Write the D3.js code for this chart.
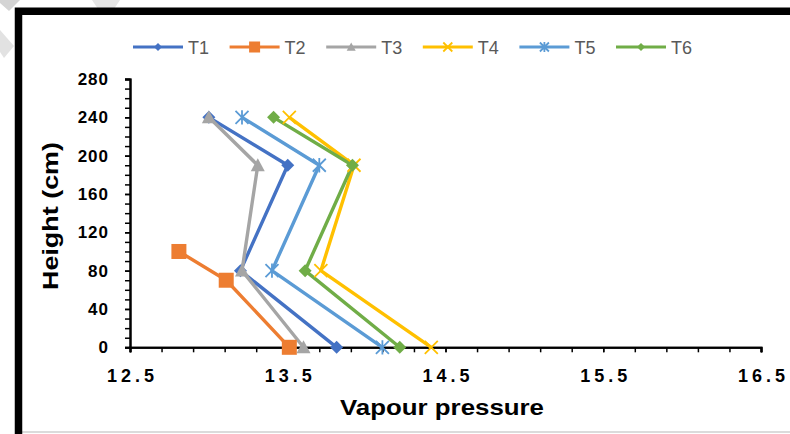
<!DOCTYPE html>
<html>
<head>
<meta charset="utf-8">
<script src="https://cdn.jsdelivr.net/npm/d3@7"></script>
<style>
  html, body { margin: 0; padding: 0; background: #fff; }
  svg { display: block; }
</style>
</head>
<body>
<svg id="chart" width="790" height="434"></svg>
<script>
// ---- data ----
const heights = [0, 80, 190, 240];
const seriesNames = ["T1", "T2", "T3", "T4", "T5", "T6"];
const T1 = [13.81, 13.20, 13.50, 13.00];
const T2x = [13.51, 13.11, 12.81];
const T2h = [0, 70, 100];
const T3 = [13.60, 13.21, 13.31, 13.00];
const T4 = [14.41, 13.71, 13.92, 13.51];
const T5 = [14.10, 13.40, 13.70, 13.21];
const T6 = [14.21, 13.61, 13.91, 13.41];
const xTickLabels = ["12.5", "13.5", "14.5", "15.5", "16.5"];
const yTickLabels = ["0", "40", "80", "120", "160", "200", "240", "280"];
const colors = ["#4472C4", "#ED7D31", "#A5A5A5", "#FFC000", "#5B9BD5", "#70AD47"];
const markers = ["diamond", "square", "triangle", "x", "star", "diamond"];

const series = [
  { name: seriesNames[0], pts: T1.map((v, i) => [v, heights[i]]) },
  { name: seriesNames[1], pts: T2x.map((v, i) => [v, T2h[i]]) },
  { name: seriesNames[2], pts: T3.map((v, i) => [v, heights[i]]) },
  { name: seriesNames[3], pts: T4.map((v, i) => [v, heights[i]]) },
  { name: seriesNames[4], pts: T5.map((v, i) => [v, heights[i]]) },
  { name: seriesNames[5], pts: T6.map((v, i) => [v, heights[i]]) }
];

const svg = d3.select("#chart");

// ---- frame / background artefacts ----
svg.append("polygon").attr("points", "0,0 20,0 9,11 0,3").attr("fill", "#d4d4d4");
svg.append("polygon").attr("points", "0,30 14,46 4,58 0,52").attr("fill", "#e2e2e2");
svg.append("polygon").attr("points", "92,0 120,0 112,12 100,12").attr("fill", "#e6e6e6");
svg.append("line").attr("x1", 22).attr("x2", 790).attr("y1", 432).attr("y2", 432)
  .attr("stroke", "#cfcfcf").attr("stroke-width", 1.5);
svg.append("path").attr("d", "M18.5,434 V11.2 H800")
  .attr("fill", "none").attr("stroke", "#000").attr("stroke-width", 7.5);

// ---- scales ----
const x = d3.scaleLinear().domain([+xTickLabels[0], +xTickLabels[xTickLabels.length - 1]]).range([130, 761]);
const y = d3.scaleLinear().domain([+yTickLabels[0], +yTickLabels[yTickLabels.length - 1]]).range([347.3, 79]);

// minor ticks
const xMinor = d3.range(0, 21).map(i => 12.5 + i * 0.2);
const yMinor = d3.range(0, 29).map(i => i * 10);

const gxMinor = svg.append("g").attr("transform", `translate(0,${y(0)})`)
  .call(d3.axisBottom(x).tickValues(xMinor).tickSize(5).tickFormat(""));
const gyMinor = svg.append("g").attr("transform", `translate(${x(12.5)},0)`)
  .call(d3.axisLeft(y).tickValues(yMinor).tickSize(5).tickFormat(""));

const gx = svg.append("g").attr("transform", `translate(0,${y(0)})`)
  .call(d3.axisBottom(x).tickValues(xTickLabels.map(Number)).tickSize(5).tickPadding(17)
    .tickFormat((d, i) => xTickLabels[i]));
const gy = svg.append("g").attr("transform", `translate(${x(12.5)},0)`)
  .call(d3.axisLeft(y).tickValues(yTickLabels.map(Number)).tickSize(5).tickPadding(16)
    .tickFormat((d, i) => yTickLabels[i]));

[gxMinor, gyMinor, gx, gy].forEach(g => {
  g.select(".domain").attr("stroke", "#000").attr("stroke-width", 2);
  g.selectAll(".tick line").attr("stroke", "#000").attr("stroke-width", 1.5);
});
gx.selectAll(".tick text").attr("font-family", "Liberation Sans, Arial, sans-serif")
  .attr("font-weight", "bold").attr("font-size", 18).attr("fill", "#000")
  .attr("letter-spacing", "4px").attr("dx", "2px");
gy.selectAll(".tick text").attr("font-family", "Liberation Sans, Arial, sans-serif")
  .attr("font-weight", "bold").attr("font-size", 17).attr("fill", "#000")
  .attr("letter-spacing", "1px");

// ---- axis titles ----
svg.append("text").attr("x", 442).attr("y", 415).attr("text-anchor", "middle")
  .attr("font-family", "Liberation Sans, Arial, sans-serif").attr("font-weight", "bold")
  .attr("font-size", 22).attr("fill", "#000")
  .attr("textLength", 204).attr("lengthAdjust", "spacingAndGlyphs")
  .text("Vapour pressure");
svg.append("text").attr("transform", "translate(58,216) rotate(-90)").attr("text-anchor", "middle")
  .attr("font-family", "Liberation Sans, Arial, sans-serif").attr("font-weight", "bold")
  .attr("font-size", 22).attr("fill", "#000")
  .attr("textLength", 148).attr("lengthAdjust", "spacingAndGlyphs")
  .text("Height (cm)");

// ---- marker drawing ----
function drawMarker(g, type, color, s) {
  const h = s / 2;
  if (type === "diamond") {
    g.append("path").attr("d", `M0,${-h}L${h},0L0,${h}L${-h},0Z`).attr("fill", color);
  } else if (type === "square") {
    g.append("rect").attr("x", -h).attr("y", -h).attr("width", s).attr("height", s).attr("fill", color);
  } else if (type === "triangle") {
    g.append("path").attr("d", `M0,${-h}L${h},${h * 0.85}L${-h},${h * 0.85}Z`).attr("fill", color);
  } else if (type === "x") {
    g.append("path").attr("d", `M${-h},${-h}L${h},${h}M${h},${-h}L${-h},${h}`)
      .attr("stroke", color).attr("stroke-width", 1.8).attr("fill", "none");
  } else if (type === "star") {
    g.append("path").attr("d", `M${-h},${-h}L${h},${h}M${h},${-h}L${-h},${h}M0,${-h * 1.1}L0,${h * 1.1}`)
      .attr("stroke", color).attr("stroke-width", 1.8).attr("fill", "none");
  }
}
const markerSize = [13, 15, 14, 13, 13, 13];
const legendMarkerSize = [8, 11, 9, 9, 9, 8];

// ---- lines + markers ----
const line = d3.line().x(d => x(d[0])).y(d => y(d[1]));
series.forEach((s, i) => {
  svg.append("path").datum(s.pts).attr("d", line)
    .attr("fill", "none").attr("stroke", colors[i]).attr("stroke-width", 3.4)
    .attr("stroke-linejoin", "round");
});
series.forEach((s, i) => {
  s.pts.forEach(p => {
    const g = svg.append("g").attr("transform", `translate(${x(p[0])},${y(p[1])})`);
    drawMarker(g, markers[i], colors[i], markerSize[i]);
  });
});

// ---- legend ----
const legend = svg.append("g");
seriesNames.forEach((name, i) => {
  const lx = 133 + i * 96.6, ly = 47;
  const g = legend.append("g").attr("transform", `translate(${lx},${ly})`);
  g.append("line").attr("x1", 0).attr("x2", 50).attr("y1", 0).attr("y2", 0)
    .attr("stroke", colors[i]).attr("stroke-width", 3);
  const m = g.append("g").attr("transform", "translate(25,0)");
  drawMarker(m, markers[i], colors[i], legendMarkerSize[i]);
  g.append("text").attr("x", 55).attr("y", 6.5)
    .attr("font-family", "Liberation Sans Narrow, Arial Narrow, sans-serif")
    .attr("font-size", 18).attr("fill", "#595959").text(name);
});
</script>
</body>
</html>
